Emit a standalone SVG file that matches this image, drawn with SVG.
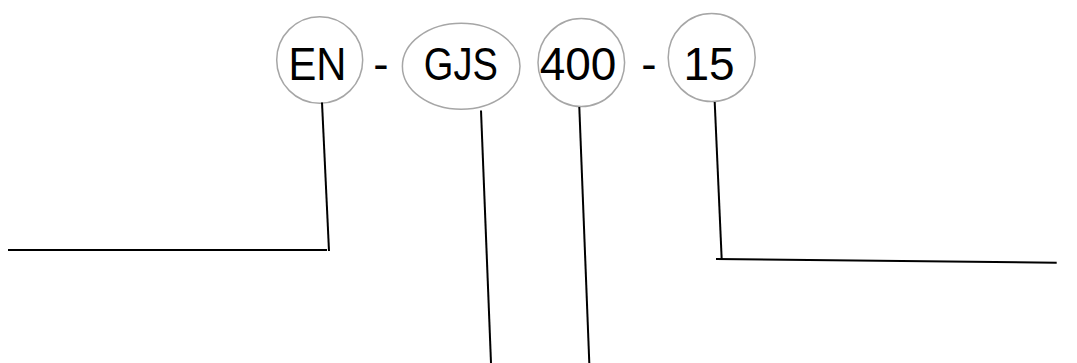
<svg xmlns="http://www.w3.org/2000/svg" width="1077" height="363" viewBox="0 0 1077 363">
<style>
.node{fill:none;stroke:#a6a6a6;stroke-width:1.5}
.lbl{font-family:"Liberation Sans",Arial,sans-serif;font-size:46px;fill:#000;text-anchor:middle}
.conn line{stroke:#000;stroke-width:2;stroke-linecap:butt}
</style>
<rect width="1077" height="363" fill="#fff"/>
<g id="node-en">
<ellipse class="node" cx="319.7" cy="60" rx="43" ry="43.3"/>
<text class="lbl" x="317.5" y="80" textLength="58" lengthAdjust="spacingAndGlyphs">EN</text>
</g>
<text class="lbl" x="381" y="80">-</text>
<g id="node-gjs">
<ellipse class="node" cx="461.2" cy="66.3" rx="58.8" ry="43"/>
<text class="lbl" x="460.8" y="80" textLength="74" lengthAdjust="spacingAndGlyphs">GJS</text>
</g>
<g id="node-400">
<ellipse class="node" cx="581.3" cy="62.5" rx="43.3" ry="44"/>
<text class="lbl" x="578" y="80">400</text>
</g>
<text class="lbl" x="649" y="80">-</text>
<g id="node-15">
<ellipse class="node" cx="711.7" cy="57.5" rx="43.5" ry="44"/>
<text class="lbl" x="709" y="80">15</text>
</g>
<g id="connectors" class="conn">
<line x1="322" y1="102.5" x2="329" y2="251"/>
<line x1="8" y1="250" x2="327" y2="250"/>
<line x1="481" y1="110.5" x2="491" y2="363"/>
<line x1="579.3" y1="107" x2="589.3" y2="363"/>
<line x1="714.7" y1="102" x2="721.7" y2="259.5"/>
<line x1="716" y1="259" x2="1056.7" y2="262.7"/>
</g>
</svg>
